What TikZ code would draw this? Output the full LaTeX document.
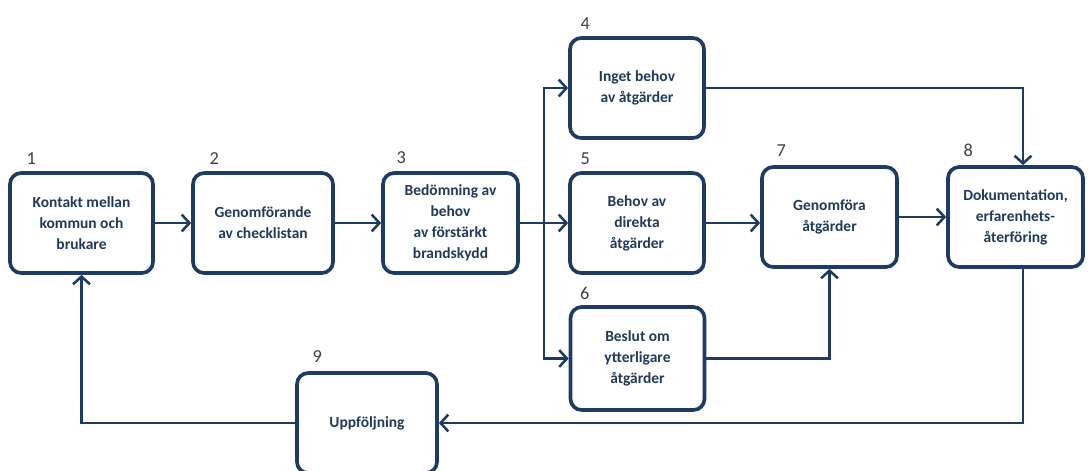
\documentclass[tikz,border=0pt]{standalone}
\usepackage{fontspec}
\setmainfont{Carlito}
\usetikzlibrary{positioning,arrows.meta,calc}
\definecolor{navyline}{HTML}{1F3B63}
\definecolor{navytext}{HTML}{22395A}
\definecolor{numgray}{HTML}{404040}

\tikzset{
  stepbox/.style={draw=navyline,line width=2.6pt,rounded corners=8pt,fill=white,
    align=center,inner sep=0pt,minimum height=2.5cm,text=navytext,
    font=\fontsize{11}{15}\selectfont\bfseries},
  num/.style={anchor=south,text=numgray,inner sep=0pt,font=\fontsize{13}{13}\selectfont},
  flow/.style={draw=navyline,line width=1.8pt,-{Straight Barb[length=5.5pt,width=12pt]}},
}

\begin{document}
\begin{tikzpicture}[x=0.025cm,y=-0.025cm]
  \useasboundingbox (0,0) rectangle (1088,470);
  % boxes
  \node[stepbox,minimum width=3.575cm] (b1) at (81.5,223) {Kontakt mellan\\kommun och\\brukare};
  \node[stepbox,minimum width=3.5cm] (b2) at (263,223) {Genomförande\\av checklistan};
  \node[stepbox,minimum width=3.375cm] (b3) at (450.5,223) {Bedömning av\\behov\\av förstärkt\\brandskydd};
  \node[stepbox,minimum width=3.35cm] (b4) at (637,88) {Inget behov\\av åtgärder};
  \node[stepbox,minimum width=3.35cm] (b5) at (637,223) {Behov av\\direkta\\åtgärder};
  \node[stepbox,minimum width=3.35cm,minimum height=2.575cm] (b6) at (637.5,358.5) {Beslut om\\ytterligare\\åtgärder};
  \node[stepbox,minimum width=3.375cm] (b7) at (829.5,217) {Genomföra\\åtgärder};
  \node[stepbox,minimum width=3.375cm] (b8) at (1015.5,217) {Dokumentation,\\erfarenhets-\\återföring};
  \node[stepbox,minimum width=3.5cm] (b9) at (367,423) {Uppföljning};
  % numbers
  \node[num] (n1) at ($(b1.north west)+(23,-6)$) {1};
  \node[num] (n2) at ($(b2.north west)+(23,-6)$) {2};
  \node[num] (n3) at ($(b3.north west)+(20,-7)$) {3};
  \node[num] (n4) at ($(b4.north west)+(17,-6)$) {4};
  \node[num] (n5) at ($(b5.north west)+(17,-6)$) {5};
  \node[num] (n6) at ($(b6.north west)+(16,-5)$) {6};
  \node[num] (n7) at ($(b7.north west)+(21,-8)$) {7};
  \node[num] (n8) at ($(b8.north west)+(22,-8)$) {8};
  \node[num] (n9) at ($(b9.north west)+(22,-8)$) {9};
  % connectors
  \coordinate (split) at (544,223);
  \coordinate (in8) at ($(b8.north)+(7.5,0)$);
  \coordinate (out8) at ($(b8.south)+(7.5,0)$);
  \draw[flow] (b1.east) -- (b2.west);
  \draw[flow] (b2.east) -- (b3.west);
  \draw[navyline,line width=1.8pt] (b3.east) -- (split);
  \draw[flow] (split) |- (b4.west);
  \draw[flow] (split) -- (b5.west);
  \draw[flow] (split) |- (b6.west);
  \draw[flow] (b5.east) -- (b7.west |- b5.east);
  \draw[flow] (b6.east) -| (b7.south);
  \draw[flow] (b7.east) -- (b8.west);
  \draw[flow] (b4.east) -| (in8);
  \draw[flow] (out8) |- (b9.east);
  \draw[flow] (b9.west) -| (b1.south);
\end{tikzpicture}
\end{document}
